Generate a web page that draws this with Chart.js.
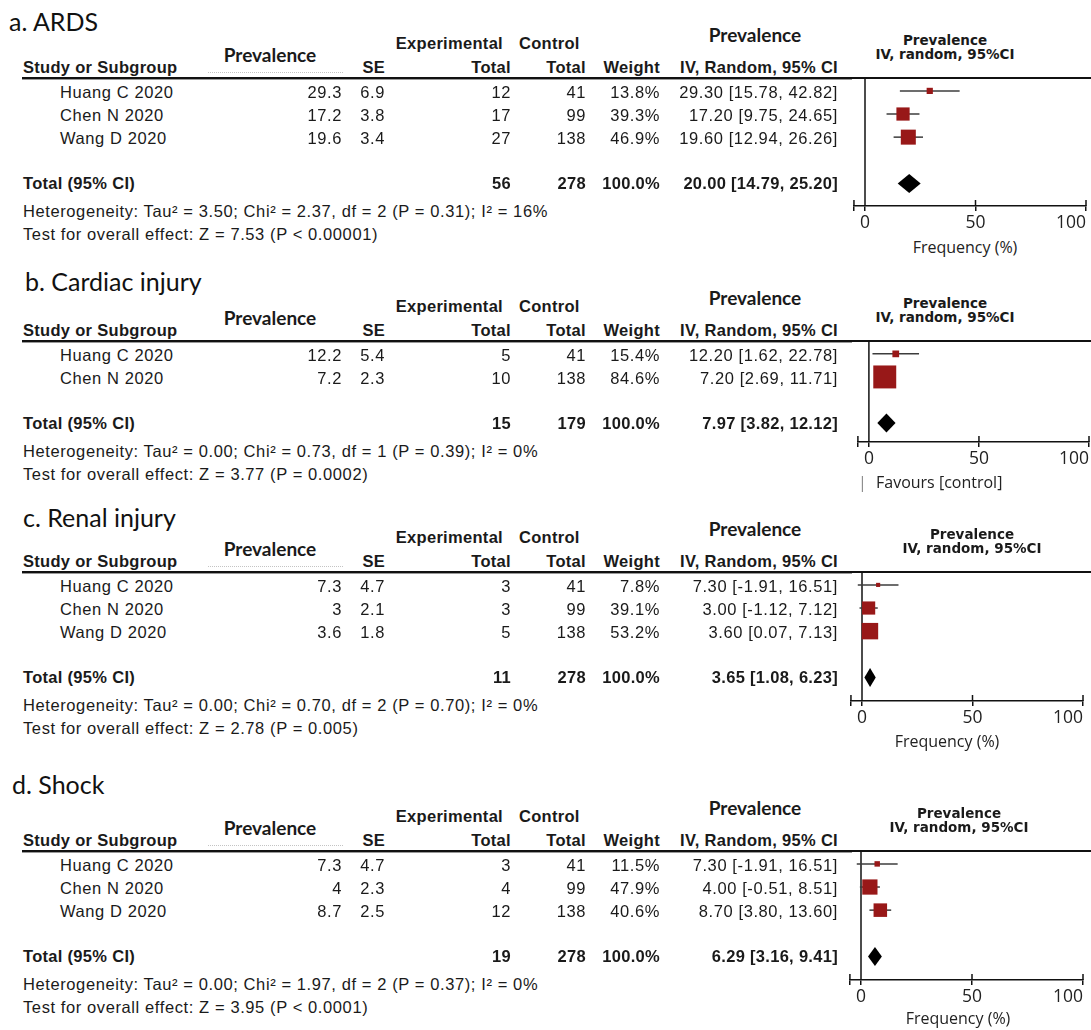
<!DOCTYPE html>
<html>
<head>
<meta charset="utf-8">
<script src="https://cdn.jsdelivr.net/npm/chart.js@4.4.1/dist/chart.umd.min.js"></script>
<style>
  html, body { margin: 0; padding: 0; background: #fff; }
  body { width: 1091px; height: 1030px; position: relative; overflow: hidden; }
  .t { position: absolute; white-space: pre; line-height: 20px; height: 20px; color: #1a1a1a;
       font-family: "Liberation Sans", Arial, sans-serif; font-size: 16.5px; letter-spacing: 0.6px; }
  .b { font-weight: bold; letter-spacing: 0.3px; }
  .ptitle { font-family: Lato, sans-serif; font-size: 25px; line-height: 30px; height: 30px; color: #111; letter-spacing: 0; }
  .phead { font-family: Lato, sans-serif; font-size: 19px; font-weight: bold; letter-spacing: 0; }
  .fhead { font-family: "DejaVu Sans", sans-serif; font-size: 13.5px; font-weight: bold; line-height: 16px; height: 16px; letter-spacing: 0; }
  .axt { font-family: "Open Sans", sans-serif; font-size: 16px; color: #222; letter-spacing: 0; }
  .hl { position: absolute; background: #111; }
  canvas { position: absolute; }
</style>
</head>
<body>
<script>
// ---- data: a. ARDS ----
const ardsStudies = ["Huang C 2020", "Chen N 2020", "Wang D 2020"];
const ardsMean = [29.3, 17.2, 19.6];
const ardsSE = [6.9, 3.8, 3.4];
const ardsExp = [12, 17, 27];
const ardsCtrl = [41, 99, 138];
const ardsWeight = [13.8, 39.3, 46.9];
const ardsLow = [15.78, 9.75, 12.94];
const ardsHigh = [42.82, 24.65, 26.26];
const ardsTotal = { exp: 56, ctrl: 278, est: 20.00, low: 14.79, high: 25.20 };

// ---- data: b. Cardiac injury ----
const cardStudies = ["Huang C 2020", "Chen N 2020"];
const cardMean = [12.2, 7.2];
const cardSE = [5.4, 2.3];
const cardExp = [5, 10];
const cardCtrl = [41, 138];
const cardWeight = [15.4, 84.6];
const cardLow = [1.62, 2.69];
const cardHigh = [22.78, 11.71];
const cardTotal = { exp: 15, ctrl: 179, est: 7.97, low: 3.82, high: 12.12 };

// ---- data: c. Renal injury ----
const renalStudies = ["Huang C 2020", "Chen N 2020", "Wang D 2020"];
const renalMean = [7.3, 3, 3.6];
const renalSE = [4.7, 2.1, 1.8];
const renalExp = [3, 3, 5];
const renalCtrl = [41, 99, 138];
const renalWeight = [7.8, 39.1, 53.2];
const renalLow = [-1.91, -1.12, 0.07];
const renalHigh = [16.51, 7.12, 7.13];
const renalTotal = { exp: 11, ctrl: 278, est: 3.65, low: 1.08, high: 6.23 };

// ---- data: d. Shock ----
const shockStudies = ["Huang C 2020", "Chen N 2020", "Wang D 2020"];
const shockMean = [7.3, 4, 8.7];
const shockSE = [4.7, 2.3, 2.5];
const shockExp = [3, 4, 12];
const shockCtrl = [41, 99, 138];
const shockWeight = [11.5, 47.9, 40.6];
const shockLow = [-1.91, -0.51, 3.80];
const shockHigh = [16.51, 8.51, 13.60];
const shockTotal = { exp: 19, ctrl: 278, est: 6.29, low: 3.16, high: 9.41 };

const xTickValues = [0, 50, 100];
const xMin = -5;

const panels = [
  { title: "a. ARDS", studies: ardsStudies, mean: ardsMean, se: ardsSE, exp: ardsExp, ctrl: ardsCtrl,
    weight: ardsWeight, low: ardsLow, high: ardsHigh, total: ardsTotal,
    het: "Heterogeneity: Tau\u00b2 = 3.50; Chi\u00b2 = 2.37, df = 2 (P = 0.31); I\u00b2 = 16%",
    test: "Test for overall effect: Z = 7.53 (P < 0.00001)", xTitle: "Frequency (%)" },
  { title: "b. Cardiac injury", studies: cardStudies, mean: cardMean, se: cardSE, exp: cardExp, ctrl: cardCtrl,
    weight: cardWeight, low: cardLow, high: cardHigh, total: cardTotal,
    het: "Heterogeneity: Tau\u00b2 = 0.00; Chi\u00b2 = 0.73, df = 1 (P = 0.39); I\u00b2 = 0%",
    test: "Test for overall effect: Z = 3.77 (P = 0.0002)", xTitle: "Favours [control]" },
  { title: "c. Renal injury", studies: renalStudies, mean: renalMean, se: renalSE, exp: renalExp, ctrl: renalCtrl,
    weight: renalWeight, low: renalLow, high: renalHigh, total: renalTotal,
    het: "Heterogeneity: Tau\u00b2 = 0.00; Chi\u00b2 = 0.70, df = 2 (P = 0.70); I\u00b2 = 0%",
    test: "Test for overall effect: Z = 2.78 (P = 0.005)", xTitle: "Frequency (%)" },
  { title: "d. Shock", studies: shockStudies, mean: shockMean, se: shockSE, exp: shockExp, ctrl: shockCtrl,
    weight: shockWeight, low: shockLow, high: shockHigh, total: shockTotal,
    het: "Heterogeneity: Tau\u00b2 = 0.00; Chi\u00b2 = 1.97, df = 2 (P = 0.37); I\u00b2 = 0%",
    test: "Test for overall effect: Z = 3.95 (P < 0.0001)", xTitle: "Frequency (%)" }
];

// page layout for each panel (pixels)
const layouts = [
  { titleX: 9, titleY: 21, hdr: 78, axis: 207, x0: 865, x100: 1086, headX: 945, axX: 965, axDy: 41, dots: true },
  { titleX: 25, titleY: 281, hdr: 341, axis: 443, x0: 869, x100: 1091, headX: 945, axX: 876, axDy: 40, dots: false },
  { titleX: 23, titleY: 517, hdr: 572, axis: 702, x0: 862, x100: 1083, headX: 972, axX: 947, axDy: 40, dots: true },
  { titleX: 12, titleY: 784, hdr: 851, axis: 981, x0: 861, x100: 1083, headX: 959, axX: 958, axDy: 38, dots: true }
];

const rowH = 23.3;
const cvLeft = 800;

function txt(s, x, y, align, cls) {
  const d = document.createElement("div");
  d.className = "t " + (cls || "");
  d.textContent = s;
  document.body.appendChild(d);
  const h = d.offsetHeight;
  d.style.top = (y - h / 2) + "px";
  if (align === "right") d.style.right = (1091 - x) + "px";
  else if (align === "center") { d.style.left = x + "px"; d.style.transform = "translateX(-50%)"; }
  else d.style.left = x + "px";
  return d;
}

function box(x, y, w, h, css) {
  const d = document.createElement("div");
  d.className = "hl";
  d.style.left = x + "px"; d.style.top = y + "px";
  d.style.width = w + "px"; d.style.height = h + "px";
  if (css) Object.assign(d.style, css);
  document.body.appendChild(d);
}

// whiskers, zero line, diamond, tick marks above the axis
const forestPlugin = {
  id: "forest",
  beforeDatasetsDraw(chart, args, o) {
    const { ctx, chartArea: a, scales: { x, y } } = chart;
    ctx.save();
    ctx.strokeStyle = "#111";
    ctx.lineWidth = 1.5;
    const zx = x.getPixelForValue(0);
    ctx.beginPath(); ctx.moveTo(zx, a.top); ctx.lineTo(zx, a.bottom); ctx.stroke();
    ctx.strokeStyle = "#3c3c3c";
    ctx.lineWidth = 1.5;
    o.low.forEach((lo, i) => {
      const yy = y.getPixelForValue(i);
      ctx.beginPath();
      ctx.moveTo(x.getPixelForValue(lo), yy);
      ctx.lineTo(x.getPixelForValue(o.high[i]), yy);
      ctx.stroke();
    });
    ctx.restore();
  },
  afterDatasetsDraw(chart, args, o) {
    const { ctx, scales: { x, y } } = chart;
    const yy = y.getPixelForValue(o.totalRow);
    const hh = 9.5;
    ctx.save();
    ctx.fillStyle = "#000";
    ctx.beginPath();
    ctx.moveTo(x.getPixelForValue(o.tLow), yy);
    ctx.lineTo(x.getPixelForValue(o.tEst), yy - hh);
    ctx.lineTo(x.getPixelForValue(o.tHigh), yy);
    ctx.lineTo(x.getPixelForValue(o.tEst), yy + hh);
    ctx.closePath();
    ctx.fill();
    ctx.restore();
  },
  afterDraw(chart) {
    const { ctx, chartArea: a, scales: { x } } = chart;
    ctx.save();
    ctx.strokeStyle = "#111";
    ctx.lineWidth = 1.5;
    x.ticks.forEach(t => {
      if (t.value === 0) return;
      const px = x.getPixelForValue(t.value);
      ctx.beginPath(); ctx.moveTo(px, a.bottom - 6); ctx.lineTo(px, a.bottom); ctx.stroke();
    });
    ctx.restore();
  }
};

panels.forEach((p, k) => {
  const L = layouts[k];
  const n = p.studies.length;
  const totalRow = n + 1;

  // panel title and table headers
  txt(p.title, L.titleX, L.titleY, "left", "ptitle");
  txt("Prevalence", 755, L.hdr - 43, "center", "phead");
  txt("Experimental", 503, L.hdr - 35, "right", "b");
  txt("Control", 519, L.hdr - 35, "left", "b");
  txt("Prevalence", 270, L.hdr - 23, "center", "phead");
  txt("Study or Subgroup", 23, L.hdr - 11, "left", "b");
  txt("SE", 385, L.hdr - 11, "right", "b");
  txt("Total", 511, L.hdr - 11, "right", "b");
  txt("Total", 586, L.hdr - 11, "right", "b");
  txt("Weight", 660, L.hdr - 11, "right", "b");
  txt("IV, Random, 95% CI", 838, L.hdr - 11, "right", "b");
  if (L.dots) box(208, L.hdr - 6, 135, 0, { background: "none", borderTop: "1px dotted #c4c4c4" });

  // header rule
  box(22, L.hdr - 1, 1069, 2);
  box(22, L.hdr + 1, 830, 1, { background: "#999" });

  // forest plot heading
  txt("Prevalence", L.headX, L.hdr - 38, "center", "fhead");
  txt("IV, random, 95%CI", L.headX, L.hdr - 24, "center", "fhead");

  // chart
  const cv = document.createElement("canvas");
  const cvH = (L.axis - L.hdr) + 29;
  cv.width = 291; cv.height = cvH;
  cv.style.left = cvLeft + "px"; cv.style.top = L.hdr + "px";
  cv.style.width = "291px"; cv.style.height = cvH + "px";
  document.body.appendChild(cv);

  const ppu = (L.x100 - L.x0) / 100;
  const xLeft = L.x0 + xMin * ppu;
  const yMin = -13 / rowH;
  const yMax = (L.axis - L.hdr - 13) / rowH;

  const chart = new Chart(cv, {
    type: "scatter",
    data: {
      datasets: [{
        data: p.mean.map((m, i) => ({ x: m, y: i })),
        pointStyle: "rect",
        pointRadius: p.weight.map(w => 0.94 * Math.pow(w, 0.72) / Math.SQRT2),
        pointHoverRadius: p.weight.map(w => 0.94 * Math.pow(w, 0.72) / Math.SQRT2),
        backgroundColor: "#981818",
        borderWidth: 0,
        clip: false
      }]
    },
    options: {
      responsive: false,
      animation: false,
      events: [],
      layout: { autoPadding: false, padding: { left: xLeft - cvLeft, right: 1091 - L.x100, top: 0, bottom: 0 } },
      plugins: {
        legend: { display: false },
        tooltip: { enabled: false },
        forest: { low: p.low, high: p.high, totalRow: totalRow,
                  tEst: p.total.est, tLow: p.total.low, tHigh: p.total.high }
      },
      scales: {
        x: {
          type: "linear", min: xMin, max: 100,
          afterBuildTicks: ax => { ax.ticks = [xMin].concat(xTickValues).map(v => ({ value: v })); },
          ticks: { align: "inner", autoSkip: false, maxRotation: 0, padding: 2, color: "#222",
                   font: { family: "Open Sans", size: 17.5 },
                   callback: v => (v < 0 ? "" : String(v)) },
          grid: { drawOnChartArea: false, drawTicks: true, tickLength: 5, color: "#111", lineWidth: 1.5 },
          border: { display: true, color: "#111", width: 1.5 }
        },
        y: { type: "linear", reverse: true, min: yMin, max: yMax, display: false }
      }
    },
    plugins: [forestPlugin]
  });

  const rowY = i => L.hdr + chart.scales.y.getPixelForValue(i);
  const axisY = L.hdr + chart.chartArea.bottom;

  // study rows
  p.studies.forEach((s, i) => {
    const y = rowY(i) + 1;
    txt(s, 60, y, "left");
    txt(String(p.mean[i]), 342, y, "right");
    txt(p.se[i].toFixed(1), 385, y, "right");
    txt(String(p.exp[i]), 511, y, "right");
    txt(String(p.ctrl[i]), 586, y, "right");
    txt(p.weight[i].toFixed(1) + "%", 660, y, "right");
    txt(p.mean[i].toFixed(2) + " [" + p.low[i].toFixed(2) + ", " + p.high[i].toFixed(2) + "]", 838, y, "right");
  });

  // total row
  const ty = rowY(totalRow);
  const t = p.total;
  txt("Total (95% CI)", 23, ty, "left", "b");
  txt(String(t.exp), 511, ty, "right", "b");
  txt(String(t.ctrl), 586, ty, "right", "b");
  txt("100.0%", 660, ty, "right", "b");
  txt(t.est.toFixed(2) + " [" + t.low.toFixed(2) + ", " + t.high.toFixed(2) + "]", 838, ty, "right", "b");
  txt(p.het, 23, ty + 27.5, "left");
  txt(p.test, 23, ty + 51, "left");

  // axis title
  if (k === 1) {
    txt("|", 858, axisY + L.axDy, "left", "axt").style.color = "#888";
    txt(p.xTitle, L.axX, axisY + L.axDy, "left", "axt");
  } else {
    txt(p.xTitle, L.axX, axisY + L.axDy, "center", "axt");
  }
});
</script>
</body>
</html>
